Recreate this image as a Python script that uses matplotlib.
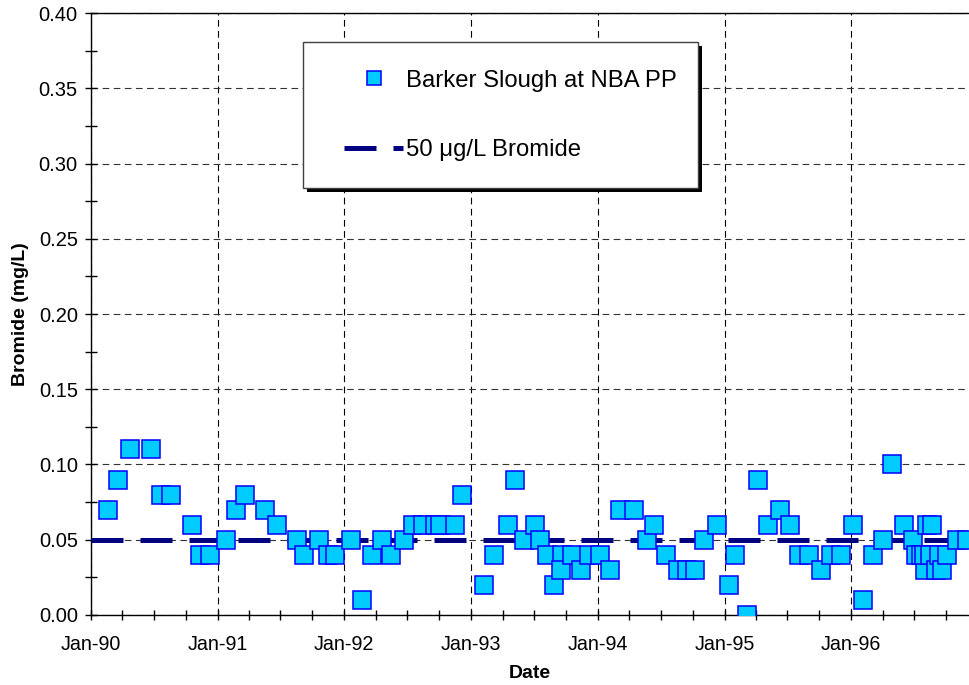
import numpy as np
import pandas as pd
import matplotlib
matplotlib.use('Agg')
import matplotlib.pyplot as plt
import matplotlib.dates as mdates
from matplotlib.patches import Rectangle
from matplotlib.lines import Line2D

plt.rcParams['font.family'] = ['Liberation Sans', 'DejaVu Sans']

# ── Data ─────────────────────────────────────────────────────────────────────
DATES = [
    '1990-02-20', '1990-03-20', '1990-04-22', '1990-06-24', '1990-07-23',
    '1990-08-19', '1990-10-20', '1990-11-10', '1990-12-09', '1991-01-24',
    '1991-02-24', '1991-03-22', '1991-05-18', '1991-06-20', '1991-08-18',
    '1991-09-08', '1991-10-19', '1991-11-14', '1991-12-06', '1992-01-21',
    '1992-02-22', '1992-03-20', '1992-04-19', '1992-05-15', '1992-06-20',
    '1992-07-18', '1992-08-16', '1992-09-19', '1992-10-03', '1992-11-14',
    '1992-12-05', '1993-02-07', '1993-03-07', '1993-04-17', '1993-05-08',
    '1993-06-01', '1993-07-04', '1993-07-19', '1993-08-07', '1993-08-27',
    '1993-09-19', '1993-09-17', '1993-10-17', '1993-11-14', '1993-12-07',
    '1994-01-06', '1994-02-06', '1994-03-06', '1994-04-16', '1994-05-22',
    '1994-06-13', '1994-07-17', '1994-08-19', '1994-09-15', '1994-10-09',
    '1994-11-04', '1994-12-09', '1995-01-13', '1995-02-01', '1995-03-08',
    '1995-04-06', '1995-05-07', '1995-06-09', '1995-07-08', '1995-08-04',
    '1995-09-02', '1995-10-05', '1995-11-03', '1995-12-02', '1996-01-05',
    '1996-02-03', '1996-03-03', '1996-04-01', '1996-04-28', '1996-06-02',
    '1996-06-26', '1996-07-07', '1996-07-19', '1996-08-01', '1996-07-30',
    '1996-08-07', '1996-08-16', '1996-08-22', '1996-09-02', '1996-09-11',
    '1996-09-19', '1996-10-04', '1996-11-02', '1996-12-01',
]
BROMIDE = [
    0.07, 0.09, 0.11, 0.11, 0.08,
    0.08, 0.06, 0.04, 0.04, 0.05,
    0.07, 0.08, 0.07, 0.06, 0.05,
    0.04, 0.05, 0.04, 0.04, 0.05,
    0.01, 0.04, 0.05, 0.04, 0.05,
    0.06, 0.06, 0.06, 0.06, 0.06,
    0.08, 0.02, 0.04, 0.06, 0.09,
    0.05, 0.06, 0.05, 0.04, 0.02,
    0.04, 0.03, 0.04, 0.03, 0.04,
    0.04, 0.03, 0.07, 0.07, 0.05,
    0.06, 0.04, 0.03, 0.03, 0.03,
    0.05, 0.06, 0.02, 0.04, 0.00,
    0.09, 0.06, 0.07, 0.06, 0.04,
    0.04, 0.03, 0.04, 0.04, 0.06,
    0.01, 0.04, 0.05, 0.10, 0.06,
    0.05, 0.04, 0.04, 0.03, 0.04,
    0.06, 0.04, 0.06, 0.03, 0.04,
    0.03, 0.04, 0.05, 0.05,
]
LIMIT = 0.05          # 50 ug/L bromide
X_START, X_END = '1990-01-01', '1996-12-04'

SERIES_LABEL = 'Barker Slough at NBA PP'
LIMIT_LABEL = '50 \u03bcg/L Bromide'

dates = pd.to_datetime(DATES)
x0, x1 = pd.Timestamp(X_START), pd.Timestamp(X_END)

# ── Plot ─────────────────────────────────────────────────────────────────────
fig = plt.figure(figsize=(9.69, 6.85), dpi=100)
ax = fig.add_axes([0.0939, 0.1022, 0.9061 - 0.0005, 0.8788])

LINE_DASH = (6.4, 3.4)
ax.plot([x0, x1], [LIMIT, LIMIT], color='#000080', lw=3.6,
        dashes=LINE_DASH, solid_capstyle='butt', dash_capstyle='butt', zorder=3)
ax.plot(dates, BROMIDE, ls='none', marker='s', ms=13.6, mfc='#00CCFF',
        mec='#0000FF', mew=1.1, zorder=4)

ax.set_xlim(x0, x1)
ax.set_ylim(0, 0.40)

ax.xaxis.set_major_locator(mdates.YearLocator())
ax.xaxis.set_minor_locator(mdates.MonthLocator(bymonth=[4, 7, 10]))
ax.xaxis.set_major_formatter(mdates.DateFormatter('%b-%y'))
ax.set_yticks(np.arange(0, 0.401, 0.05))
ax.set_yticks(np.arange(0.025, 0.40, 0.05), minor=True)
ax.yaxis.set_major_formatter(matplotlib.ticker.FormatStrFormatter('%.2f'))

ax.xaxis.grid(True, which='major', color='black', lw=0.8, ls=(0, (6, 4)))
ax.yaxis.grid(True, which='major', color='#333333', lw=0.8, ls=(0, (6, 4)))
ax.set_axisbelow(True)

ax.tick_params(axis='x', which='both', direction='inout', length=7, width=1,
               labelsize=14.2, pad=11)
ax.tick_params(axis='y', which='major', direction='inout', length=9, width=1,
               labelsize=14.5, pad=5)
ax.tick_params(axis='y', which='minor', direction='inout', length=8, width=1)
for s in ['left', 'bottom', 'top']:
    ax.spines[s].set_linewidth(1.0)
ax.spines['right'].set_visible(False)

ax.set_xlabel('Date', fontsize=14, fontweight='bold', labelpad=8)
ax.set_ylabel('Bromide (mg/L)', fontsize=14, fontweight='bold', labelpad=7)

# legend frame with drop shadow (drawn by hand to match the box size)
fx, fy, fw, fh = 303 / 969, 1 - 188 / 685, 395 / 969, 146 / 685
fig.patches.append(Rectangle((fx + 4 / 969, fy - 4 / 685), fw, fh,
                             transform=fig.transFigure, fc='black', ec='none',
                             zorder=5))
fig.patches.append(Rectangle((fx, fy), fw, fh, transform=fig.transFigure,
                             fc='white', ec='#404040', lw=1.0, zorder=6))

handles = [
    Line2D([], [], ls='none', marker='s', ms=10.5, mfc='#00CCFF', mec='#0000FF',
           mew=1.1),
    Line2D([], [], color='#000080', lw=3.6, dashes=LINE_DASH,
           dash_capstyle='butt'),
]
leg = fig.legend(handles, [SERIES_LABEL, LIMIT_LABEL], loc='center',
                 bbox_to_anchor=(510.5 / 969, 1 - 115.5 / 685),
                 frameon=False, fontsize=17.2, handlelength=2.47,
                 handletextpad=0.13, labelspacing=2.0, borderpad=0)
leg.set_zorder(7)

fig.savefig('out.png', dpi=100)
